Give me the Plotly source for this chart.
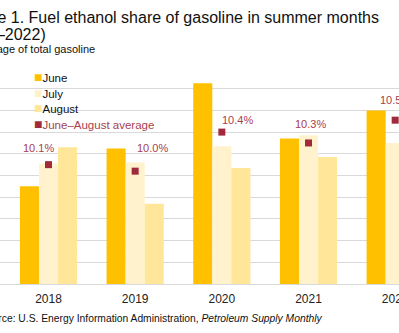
import plotly.graph_objects as go

# ---- data ----
years = ["2018", "2019", "2020", "2021", "2022"]
june = [9.90, 10.25, 10.85, 10.34, 10.60]
july = [10.11, 10.12, 10.27, 10.37, 10.30]
august = [10.26, 9.74, 10.07, 10.17, 10.63]
avg = [10.10, 10.04, 10.40, 10.30, 10.51]
avg_labels = ["10.1%", "10.0%", "10.4%", "10.3%", "10.5%"]

series_names = ["June", "July", "August"]
series_colors = ["#FFC000", "#FFF2CC", "#FFE699"]
avg_name = "June\u2013August average"
avg_marker_color = "#A02A3C"
avg_text_color = "#A8404F"

W, H = 399, 333
PLOT_TOP, PLOT_BOTTOM = 67, 284
FONT = "Liberation Sans, Arial, sans-serif"


def px(p):
    return p / W


def py(p):
    return (PLOT_BOTTOM - p) / (PLOT_BOTTOM - PLOT_TOP)


fig = go.Figure()
for name, vals, col in zip(series_names, [june, july, august], series_colors):
    fig.add_trace(go.Bar(x=years, y=vals, name=name, marker=dict(color=col, line=dict(width=0)),
                         showlegend=False))

fig.add_trace(go.Scatter(x=years, y=avg, mode="markers", name=avg_name, showlegend=False,
                         marker=dict(symbol="square", size=7, color=avg_marker_color)))

# average value labels (offsets in pixels relative to markers)
label_shifts = [(-10, 17), (17, 23.5), (16, 12), (2, 18.5), (0, 20)]
for i, (v, lab, (dx, dy)) in enumerate(zip(avg, avg_labels, label_shifts)):
    fig.add_annotation(x=i, y=v, xref="x", yref="y", text=lab, showarrow=False,
                       xshift=dx, yshift=dy, font=dict(family=FONT, size=11, color=avg_text_color))

# titles
titles = [
    ("Figure 1. Fuel ethanol share of gasoline in summer months", -41, 17, 16, "#111111"),
    ("(2018\u20132022)", -47, 34, 16, "#111111"),
    ("percentage of total gasoline", -42, 49, 11, "#111111"),
    ("Source: U.S. Energy Information Administration, <i>Petroleum Supply Monthly</i>", -22.5, 318.4, 10.3, "#111111"),
]
for txt, x0, yc, fs, col in titles:
    fig.add_annotation(x=px(x0), y=py(yc), xref="paper", yref="paper", text=txt, showarrow=False,
                       xanchor="left", yanchor="middle", align="left",
                       font=dict(family=FONT, size=fs, color=col))

# legend (text with coloured squares)
legend_items = [
    ("June", "#FFC000", "#111111"),
    ("July", "#FFF2CC", "#111111"),
    ("August", "#FFE699", "#111111"),
    (avg_name, avg_marker_color, avg_text_color),
]
legend_y = [77.2, 92.7, 108.2, 123.7]
for (txt, sq, tc), yc in zip(legend_items, legend_y):
    fig.add_annotation(x=px(32), y=py(yc), xref="paper", yref="paper",
                       text=f"<span style='color:{sq};font-size:14px'>\u25A0</span>{txt}",
                       showarrow=False, xanchor="left", yanchor="middle",
                       font=dict(family=FONT, size=11.5, color=tc))

spacing = 86.67
c0 = 48.5
fig.update_layout(
    width=W, height=H,
    margin=dict(l=0, r=0, t=PLOT_TOP, b=H - PLOT_BOTTOM, pad=0, autoexpand=False),
    paper_bgcolor="white", plot_bgcolor="white",
    barmode="group", bargap=0.34, bargroupgap=0,
    showlegend=False,
    font=dict(family=FONT, color="#111111"),
    xaxis=dict(type="category", range=[-c0 / spacing, (W - c0) / spacing], automargin=False,
               showgrid=False, showline=True, linecolor="#D9D9D9", linewidth=1,
               ticks="", ticklabeloverflow="allow", ticklabelstandoff=4,
               tickfont=dict(family=FONT, size=12, color="#222222")),
    yaxis=dict(range=[9.0, 11.0], dtick=0.2, tick0=9.0, showgrid=True, gridcolor="#D9D9D9",
               gridwidth=1, zeroline=False, showticklabels=False, ticks="", showline=False,
               automargin=False),
)

fig.write_html("out.html")
